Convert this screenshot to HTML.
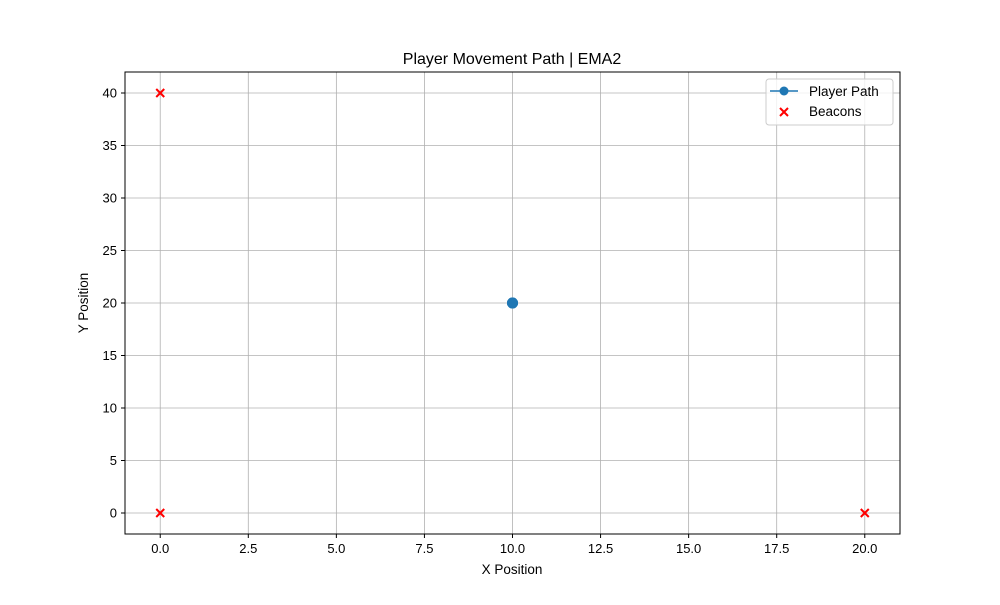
<!DOCTYPE html>
<html><head><meta charset="utf-8"><style>
body{margin:0;background:#fff;}
svg text{font-family:"Liberation Sans","DejaVu Sans",sans-serif;}
</style></head><body>
<svg width="1000" height="600" xmlns="http://www.w3.org/2000/svg">
<rect width="1000" height="600" fill="#fff"/>
<g id="grid"></g>
<g id="ticks"></g>
<g id="marks"></g>
<rect x="125" y="72" width="775" height="462" fill="none" stroke="#000" stroke-width="1"/>
<text x="512" y="64" font-size="16" text-anchor="middle">Player Movement Path | EMA2</text>
<text x="512" y="574" font-size="13.5" text-anchor="middle">X Position</text>
<text x="88" y="303" font-size="13.5" text-anchor="middle" transform="rotate(-90 88 303)">Y Position</text>
<g>
<rect x="766" y="79" width="127" height="46" rx="3" fill="#fff" fill-opacity="0.8" stroke="#ccc"/>
<g>
<line x1="770" y1="91" x2="798" y2="91" stroke="#1f77b4" stroke-width="1.5"/>
<circle cx="784" cy="91" r="4.5" fill="#1f77b4"/>
<text x="809" y="96" font-size="13.5">Player Path</text>
</g>
<g>
<path d="M780,108 l8,8 M788,108 l-8,8" stroke="red" stroke-width="2"/>
<text x="809" y="116" font-size="13.5">Beacons</text>
</g>
</g>
</svg>
<script>
const pathX=[10,10,10];
const pathY=[20,20,20];
const beaconX=[0,0,20];
const beaconY=[0,40,0];
const xTicks=[0,2.5,5,7.5,10,12.5,15,17.5,20];
const yTicks=[0,5,10,15,20,25,30,35,40];
const NS="http://www.w3.org/2000/svg";
const sx=v=>125+(v+1)*775/22;
const sy=v=>534-(v+2)*462/44;
function mk(t,a,p){const e=document.createElementNS(NS,t);for(const k in a)e.setAttribute(k,a[k]);p.appendChild(e);return e;}
const grid=document.getElementById('grid'),ticks=document.getElementById('ticks'),marks=document.getElementById('marks');
xTicks.forEach(v=>{const x=sx(v);
const g=mk('line',{x1:x,x2:x,y1:72,y2:534,stroke:'#b0b0b0','stroke-width':0.8},grid);


mk('line',{x1:x,x2:x,y1:534,y2:538,stroke:'#000'},ticks);
const t=mk('text',{x:x,y:553,'font-size':13,'text-anchor':'middle'},ticks);t.textContent=v.toFixed(1);

});
yTicks.forEach(v=>{const y=sy(v);
const g=mk('line',{x1:125,x2:900,y1:y,y2:y,stroke:'#b0b0b0','stroke-width':0.8},grid);


mk('line',{x1:121,x2:125,y1:y,y2:y,stroke:'#000'},ticks);
const t=mk('text',{x:117,y:y+4.5,'font-size':13,'text-anchor':'end'},ticks);t.textContent=v;

});
const pl=mk('polyline',{points:pathX.map((x,i)=>sx(x)+','+sy(pathY[i])).join(' '),fill:'none',stroke:'#1f77b4','stroke-width':1.5},marks);


pathX.forEach((x,i)=>{const c=mk('circle',{cx:sx(x),cy:sy(pathY[i]),r:5.5,fill:'#1f77b4'},marks);

});
beaconX.forEach((x,i)=>{const X=sx(x),Y=sy(beaconY[i]);
const p=mk('path',{d:`M${X-4},${Y-4} L${X+4},${Y+4} M${X+4},${Y-4} L${X-4},${Y+4}`,stroke:'red','stroke-width':2},marks);

});
</script>
</body></html>
